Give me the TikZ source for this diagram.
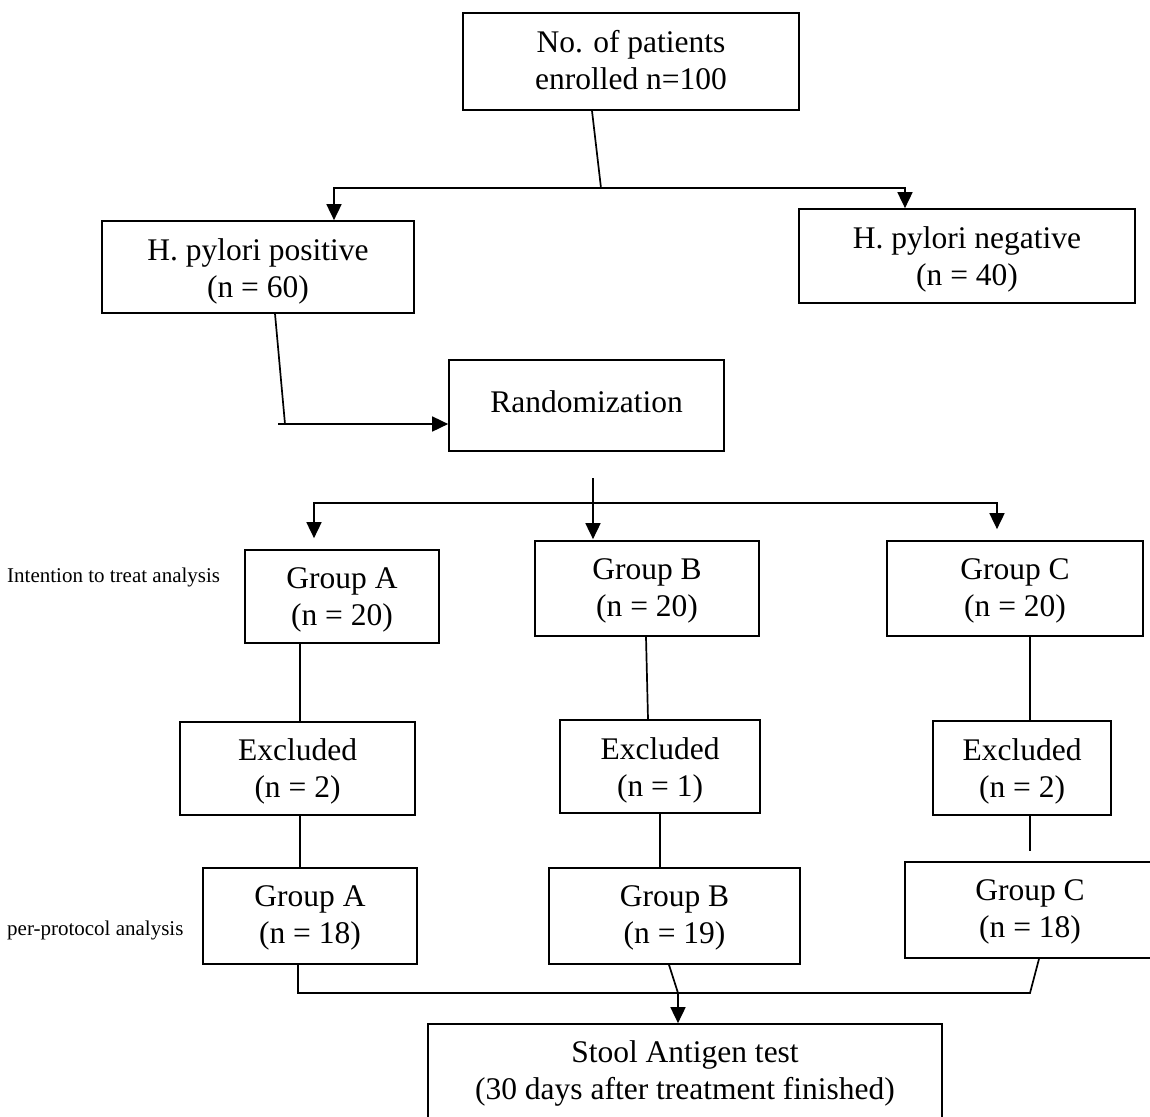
\documentclass[tikz,border=0pt]{standalone}
\usepackage{fontspec}
\setmainfont{Liberation Serif}
\usetikzlibrary{arrows.meta,calc}
\newcommand\bigf{\fontsize{31.5}{37}\selectfont}
\newcommand\smallf{\fontsize{21}{25}\selectfont}
\tikzset{
  box/.style={draw, line width=1.7pt, inner sep=0pt},
  txt/.style={inner sep=0pt, align=center, font=\bigf, anchor=north},
  conn/.style={line width=1.7pt},
  arr/.style={line width=1.7pt, -{Triangle[width=15pt,length=16pt]}},
  lbl/.style={inner sep=0pt, font=\smallf, anchor=base west}
}
\begin{document}
\begin{tikzpicture}[x=1pt,y=-1pt]
\useasboundingbox (0,0) rectangle (1150,1116);
\clip (0,0) rectangle (1150,1116);
\fill[white] (0,0) rectangle (1150,1116);

\node[box, minimum width=336pt, minimum height=97pt] (top) at (631,61.5) {};
\node[txt] (topT) at ([yshift=-18pt]top.north) {No. of patients\\enrolled n=100};
\node[box, minimum width=312pt, minimum height=92pt] (hpos) at (258,267) {};
\node[txt] (hposT) at ([yshift=-18pt]hpos.north) {H. pylori positive\\(n = 60)};
\node[box, minimum width=336pt, minimum height=94pt] (hneg) at (967,256) {};
\node[txt] (hnegT) at ([yshift=-18pt]hneg.north) {H. pylori negative\\(n = 40)};
\node[box, minimum width=275pt, minimum height=91pt] (rand) at (586.5,405.5) {};
\node[txt] (randT) at ([yshift=-31pt]rand.north) {Randomization};
\node[box, minimum width=194pt, minimum height=93pt] (gA) at (342,596.5) {};
\node[txt] (gAT) at ([yshift=-18pt]gA.north) {Group A\\(n = 20)};
\node[box, minimum width=224pt, minimum height=95pt] (gB) at (647,588.5) {};
\node[txt] (gBT) at ([yshift=-18pt]gB.north) {Group B\\(n = 20)};
\node[box, minimum width=256pt, minimum height=95pt] (gC) at (1015,588.5) {};
\node[txt] (gCT) at ([yshift=-18pt]gC.north) {Group C\\(n = 20)};
\node[box, minimum width=235pt, minimum height=93pt] (eA) at (297.5,768.5) {};
\node[txt] (eAT) at ([yshift=-17pt]eA.north) {Excluded\\(n = 2)};
\node[box, minimum width=200pt, minimum height=93pt] (eB) at (660,766.5) {};
\node[txt] (eBT) at ([yshift=-18pt]eB.north) {Excluded\\(n = 1)};
\node[box, minimum width=178pt, minimum height=94pt] (eC) at (1022,768) {};
\node[txt] (eCT) at ([yshift=-18pt]eC.north) {Excluded\\(n = 2)};
\node[box, minimum width=214pt, minimum height=96pt] (pA) at (310,916) {};
\node[txt] (pAT) at ([yshift=-18pt]pA.north) {Group A\\(n = 18)};
\node[box, minimum width=251pt, minimum height=96pt] (pB) at (674.5,916) {};
\node[txt] (pBT) at ([yshift=-18pt]pB.north) {Group B\\(n = 19)};
\node[box, minimum width=250pt, minimum height=96pt] (pC) at (1030,910) {};
\node[txt] (pCT) at ([yshift=-18pt]pC.north) {Group C\\(n = 18)};
\node[box, minimum width=514pt, minimum height=130pt] (stool) at (685,1089) {};
\node[txt] (stoolT) at ([yshift=-17pt]stool.north) {Stool Antigen test\\(30 days after treatment finished)};

\node[lbl] (itt) at (7,582) {Intention to treat analysis};
\node[lbl] (pp) at (7,935) {per-protocol analysis};

% top split
\coordinate (j1) at (601,188);
\draw[conn] ([xshift=-39pt]top.south) -- (j1);
\draw[arr] (j1) -| ([xshift=76pt]hpos.north);
\draw[arr] (j1) -| ([xshift=-62pt]hneg.north);

% positive to randomization
\coordinate (j2) at (285,424);
\coordinate (j2s) at (278,424);
\draw[conn] ([xshift=17pt]hpos.south) -- (j2);
\draw[arr] (j2s) -- (j2s -| rand.west);

% randomization split
\coordinate (r1) at (593,478);
\coordinate (r2) at (593,503);
\draw[arr, shorten >=1pt] (r1) -- (r1 |- gB.north);
\draw[arr, shorten >=11pt] (r2) -| ([xshift=-28pt]gA.north);
\draw[arr, shorten >=11pt] (r2) -| ([xshift=-18pt]gC.north);

% groups to excluded
\draw[conn] ([xshift=-42pt]gA.south) -- ([xshift=2.5pt]eA.north);
\draw[conn] ([xshift=-1pt]gB.south) -- ([xshift=-12pt]eB.north);
\draw[conn] ([xshift=15pt]gC.south) -- ([xshift=8pt]eC.north);

% excluded to per-protocol
\draw[conn] ([xshift=2.5pt]eA.south) -- ([xshift=-10pt]pA.north);
\draw[conn] (eB.south) -- ([xshift=-14.5pt]pB.north);
\draw[conn, shorten >=10pt] ([xshift=8pt]eC.south) -- (pC.north);

% merge to stool
\coordinate (mL) at (298,993);
\coordinate (mR) at (1030,993);
\coordinate (mB) at (678,993);
\draw[conn] ([xshift=-12pt]pA.south) -- (mL) -- (mR) -- ([xshift=9pt]pC.south);
\draw[conn] ([xshift=-5.5pt]pB.south) -- (mB);
\draw[arr] (mB) -- (mB |- stool.north);
\end{tikzpicture}
\end{document}
